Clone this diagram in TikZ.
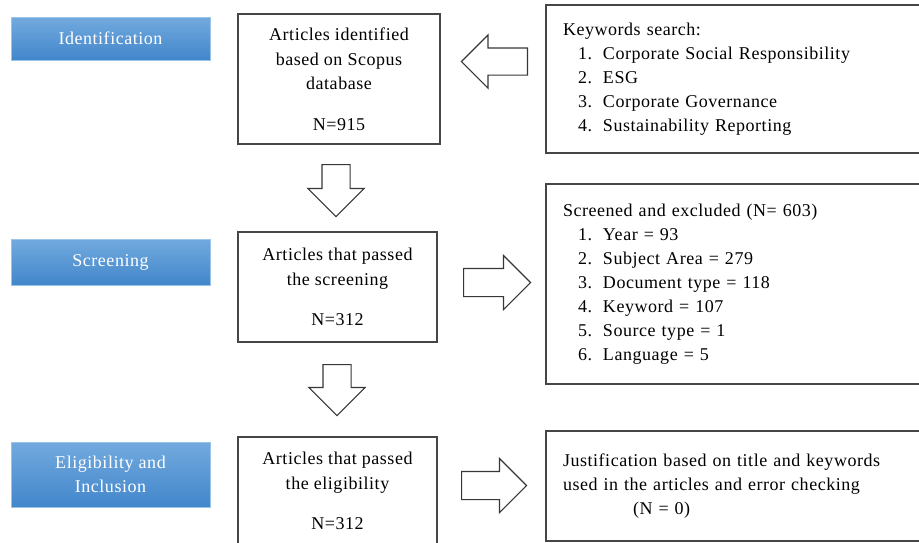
\documentclass[tikz,border=0pt]{standalone}
\usepackage{fontspec}
\setmainfont{Liberation Serif}[LetterSpace=3]
\usetikzlibrary{positioning,calc,shapes.arrows}
\definecolor{stagetop}{RGB}{114,170,222}
\definecolor{stagebot}{RGB}{66,134,203}
\definecolor{boxline}{RGB}{70,70,70}
\definecolor{arrowline}{RGB}{55,55,55}
\newcommand{\numitem}[2]{\hspace*{15pt}\makebox[25pt][l]{#1.}#2}
\tikzset{
  stage/.style={rectangle,top color=stagetop,bottom color=stagebot,draw=stagetop!70!white,line width=0.6pt,text=white,align=center,inner sep=0pt,minimum width=199,font=\fontsize{18}{24}\selectfont},
  countbox/.style={rectangle,draw=boxline,line width=1.5pt,fill=white,align=center,inner sep=0pt,font=\fontsize{18}{24.5}\selectfont},
  notebox/.style={rectangle,draw=boxline,line width=1.5pt,fill=white,align=left,inner xsep=17pt,inner ysep=0pt,text width=345,minimum width=379,font=\fontsize{18}{24}\selectfont},
  blockarrow/.style={single arrow,draw=arrowline,fill=white,line width=1.2pt,inner xsep=0pt,inner ysep=13.5pt,single arrow head extend=14,anchor=tail}
}
\begin{document}
\begin{tikzpicture}[x=1pt,y=-1pt]
  \useasboundingbox (0,0) rectangle (919,542);
  \clip (0,0) rectangle (919,542);

  % stages on the left
  \node[stage,minimum height=43] (ident) at (110.5,38.5) {Identification};
  \node[stage,minimum height=46] (screen) at (110.5,262) {Screening};
  \node[stage,minimum height=65] (elig) at (110.5,474.5) {Eligibility and\\ Inclusion};

  % article counts
  \node[countbox,minimum width=202,minimum height=130] (artid) at (339,79) {Articles identified\\ based on Scopus\\ database\\[16pt] N=915};
  \node[countbox,minimum width=199,minimum height=110] (artscr) at (337.5,287) {Articles that passed\\ the screening\\[16pt] N=312};
  \node[countbox,minimum width=199,minimum height=108] (artelig) at (337.5,491) {Articles that passed\\ the eligibility\\[16pt] N=312};

  % notes on the right
  \node[notebox,minimum height=148] (kwbox) at (735.5,79) {Keywords search:\\
    \numitem{1}{Corporate Social Responsibility}\\
    \numitem{2}{ESG}\\
    \numitem{3}{Corporate Governance}\\
    \numitem{4}{Sustainability Reporting}};
  \node[notebox,minimum height=200] (exclbox) at (735.5,284) {Screened and excluded (N= 603)\\
    \numitem{1}{Year = 93}\\
    \numitem{2}{Subject Area = 279}\\
    \numitem{3}{Document type = 118}\\
    \numitem{4}{Keyword = 107}\\
    \numitem{5}{Source type = 1}\\
    \numitem{6}{Language = 5}};
  \node[notebox,minimum height=110] (justbox) at (735.5,486) {Justification based on title and keywords\\
    used in the articles and error checking\\
    \hspace*{70pt}(N = 0)};

  % block arrows
  \node[blockarrow,rotate=180,minimum height=66,inner ysep=13pt,single arrow head extend=13] (kwarrow) at (528,61.5) {};
  \node[blockarrow,rotate=-90,minimum height=52] (downone) at (336,164) {};
  \node[blockarrow,minimum height=67,single arrow head extend=13] (exclarrow) at (463,282.5) {};
  \node[blockarrow,rotate=-90,minimum height=51] (downtwo) at (337,364) {};
  \node[blockarrow,minimum height=65,single arrow head extend=13] (justarrow) at (461,485.5) {};
\end{tikzpicture}
\end{document}
